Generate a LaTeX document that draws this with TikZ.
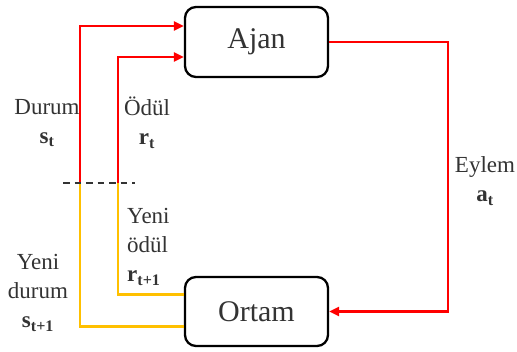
\documentclass[tikz,border=0pt]{standalone}
\usepackage{fontspec}
\setmainfont{Liberation Serif}
\usetikzlibrary{arrows.meta}
\definecolor{myred}{HTML}{FF0000}
\definecolor{myyel}{HTML}{FFC000}
\definecolor{txt}{HTML}{333333}
\begin{document}
\begin{tikzpicture}[x=1pt,y=-1pt,
  box/.style={draw=black,line width=2.3pt,rounded corners=11pt,minimum width=143pt,minimum height=70pt,inner sep=0pt,font=\fontsize{30}{36}\selectfont,text=txt},
  lbl/.style={font=\fontsize{23}{29}\selectfont,text=txt,inner sep=0pt},
  redline/.style={draw=myred,line width=2.5pt},
  yelline/.style={draw=myyel,line width=2.5pt},
  tip/.style={-{Triangle[length=10pt,width=9pt]}}]
\useasboundingbox (0,0) rectangle (517,352);
\node[box] (ajan) at (256.5,42) {Ajan};
\node[box,minimum height=69pt] (ortam) at (256.5,311.5) {Ortam};
\coordinate (d1) at (63,183);
\coordinate (d2) at (135,183);
\coordinate (sd) at (80,183);
\coordinate (rd) at (118,183);
\coordinate (ex) at (448,0);
% red state/reward to agent
\draw[redline,tip] (sd) |- ([yshift=16pt]ajan.west);
\draw[redline,tip] (rd) |- ([yshift=-15pt]ajan.west);
% yellow from environment
\draw[yelline] (sd) |- ([yshift=-15pt]ortam.west);
\draw[yelline] (rd) |- ([yshift=17pt]ortam.west);
% action
\draw[redline,tip] (ajan.east) -- (ajan.east -| ex) -- (ortam.east -| ex) -- (ortam.east);
% dashed separator
\draw[black!80,line width=2pt,dash pattern=on 6.5pt off 5pt] (d1) -- (d2);
% labels
\node[lbl,align=center] (ldurum) at (47,123) {Durum\\\textbf{s\textsubscript{t}}};
\node[lbl,align=center] (lodul) at (147,123) {Ödül\\\textbf{r\textsubscript{t}}};
\node[lbl,align=left,anchor=west] (lyodul) at (127,247) {Yeni\\ödül\\\textbf{r\textsubscript{t+1}}};
\node[lbl,align=center] (lydurum) at (38,293) {Yeni\\durum\\\textbf{s\textsubscript{t+1}}};
\node[lbl,align=center] (leylem) at (485,181) {Eylem\\\textbf{a\textsubscript{t}}};
\end{tikzpicture}
\end{document}
